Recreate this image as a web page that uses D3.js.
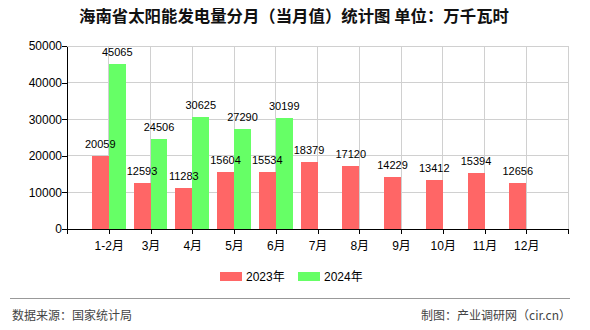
<!DOCTYPE html>
<html>
<head>
<meta charset="utf-8">
<script src="https://cdn.jsdelivr.net/npm/d3@7"></script>
<style>
  html, body { margin: 0; padding: 0; background: #fff; }
  svg { display: block; }
</style>
</head>
<body>
<svg id="chart" width="590" height="330"></svg>
<script>
const categories = ["1-2月", "3月", "4月", "5月", "6月", "7月", "8月", "9月", "10月", "11月", "12月"];
const values2023 = [20059, 12593, 11283, 15604, 15534, 18379, 17120, 14229, 13412, 15394, 12656];
const values2024 = [45065, 24506, 30625, 27290, 30199];
const seriesNames = ["2023年", "2024年"];
const yTicks = [0, 10000, 20000, 30000, 40000, 50000];
const titleText = "海南省太阳能发电量分月（当月值）统计图 单位：万千瓦时";
const sourceText = "数据来源：国家统计局";
const creditText = "制图：产业调研网（cir.cn）";

const colors = ["#FF6666", "#66FF66"];
const numFont = "'Liberation Sans', Arial, sans-serif";
const cjkFont = "'Liberation Sans', 'Noto Sans CJK SC', sans-serif";

const svg = d3.select("#chart");
const pLeft = 67, pRight = 568, pTop = 46, pBottom = 229;

const x = d3.scalePoint().domain(categories).range([pLeft, pRight]).padding(1);
const y = d3.scaleLinear().domain([0, 50000]).range([pBottom, pTop]);
const step = x.step();
const bw = step * 0.405;

// title
svg.append("text")
  .attr("x", 294).attr("y", 22)
  .attr("text-anchor", "middle")
  .attr("font-family", "'Noto Sans CJK SC', sans-serif")
  .attr("font-size", 16.4).attr("font-weight", "bold")
  .attr("fill", "#111")
  .text(titleText);

// grid
const grid = svg.append("g").attr("stroke", "#d0d0d0").attr("stroke-width", 1).attr("shape-rendering", "crispEdges");
yTicks.filter(t => t > 0).forEach(t => {
  grid.append("line").attr("x1", pLeft).attr("x2", pRight).attr("y1", y(t)).attr("y2", y(t));
});
categories.forEach(c => {
  grid.append("line").attr("x1", x(c)).attr("x2", x(c)).attr("y1", pTop).attr("y2", pBottom);
});
grid.append("line").attr("x1", pRight).attr("x2", pRight).attr("y1", pTop).attr("y2", pBottom);

// bars
const bars = svg.append("g").attr("shape-rendering", "crispEdges");
bars.selectAll("rect.s23").data(values2023).enter().append("rect")
  .attr("class", "s23")
  .attr("x", (d, i) => x(categories[i]) - bw)
  .attr("y", d => y(d))
  .attr("width", bw)
  .attr("height", d => pBottom - y(d))
  .attr("fill", colors[0]);
bars.selectAll("rect.s24").data(values2024).enter().append("rect")
  .attr("class", "s24")
  .attr("x", (d, i) => x(categories[i]))
  .attr("y", d => y(d))
  .attr("width", bw)
  .attr("height", d => pBottom - y(d))
  .attr("fill", colors[1]);

// axes
const xAxis = svg.append("g").attr("transform", `translate(0,${pBottom})`)
  .call(d3.axisBottom(x).tickSize(5).tickSizeOuter(5));
xAxis.selectAll("text").attr("font-family", cjkFont).attr("font-size", 12).attr("fill", "#000").attr("dy", "1.05em");
xAxis.selectAll("path, line").attr("stroke", "#000").attr("shape-rendering", "crispEdges");

const yAxis = svg.append("g").attr("transform", `translate(${pLeft},0)`)
  .call(d3.axisLeft(y).tickValues(yTicks).tickFormat(d3.format("d")).tickSize(5).tickSizeOuter(0));
yAxis.selectAll("text").attr("font-family", numFont).attr("font-size", 12).attr("fill", "#000").attr("x", -5);
yAxis.selectAll("path, line").attr("stroke", "#000").attr("shape-rendering", "crispEdges");

// value labels
const labels = svg.append("g").attr("font-family", numFont).attr("font-size", 11).attr("fill", "#000").attr("text-anchor", "middle");
values2023.forEach((v, i) => {
  labels.append("text").attr("x", x(categories[i]) - bw / 2).attr("y", y(v) - 8).text(v);
});
values2024.forEach((v, i) => {
  labels.append("text").attr("x", x(categories[i]) + bw / 2).attr("y", y(v) - 8).text(v);
});

// legend
const legendX = [220, 298];
seriesNames.forEach((name, i) => {
  svg.append("rect").attr("x", legendX[i]).attr("y", 272).attr("width", 22).attr("height", 9).attr("fill", colors[i]);
  svg.append("text").attr("x", legendX[i] + 26).attr("y", 281)
    .attr("font-family", cjkFont).attr("font-size", 12).attr("fill", "#000").text(name);
});

// separator + footer
svg.append("line").attr("x1", 10).attr("x2", 570).attr("y1", 298.5).attr("y2", 298.5)
  .attr("stroke", "#999").attr("stroke-width", 1);
svg.append("text").attr("x", 12).attr("y", 320)
  .attr("font-family", "'Noto Sans CJK SC', sans-serif").attr("font-size", 12).attr("fill", "#444").text(sourceText);
svg.append("text").attr("x", 571).attr("y", 320).attr("text-anchor", "end")
  .attr("font-family", "'Noto Sans CJK SC', sans-serif").attr("font-size", 12).attr("fill", "#444").text(creditText);
</script>
</body>
</html>
